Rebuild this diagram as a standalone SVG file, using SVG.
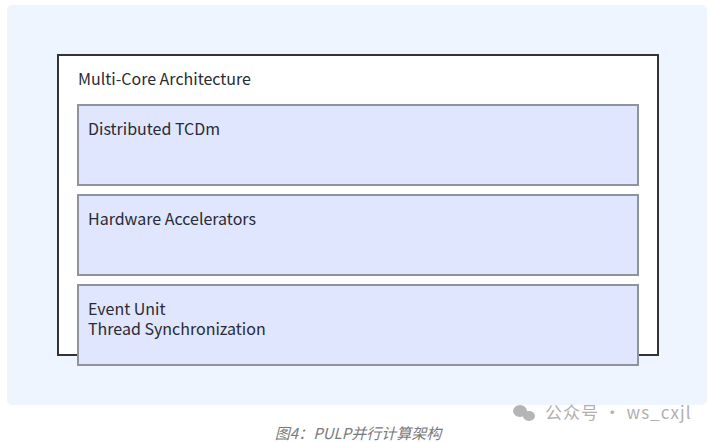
<svg xmlns="http://www.w3.org/2000/svg" width="710" height="442" viewBox="0 0 710 442">
<style>
.lbl{font-family:"Noto Sans CJK SC","Noto Sans",sans-serif;font-size:16px;fill:#2a2a33}
.inner{fill:#dfe6fd;stroke:#8e939c;stroke-width:2}
.cap{font-family:"Noto Sans CJK SC","Noto Sans",sans-serif;font-size:15px;fill:#7a7a7a;font-style:italic}
.wm{font-family:"Noto Sans CJK SC","Noto Sans",sans-serif;font-size:17px;fill:#b0b0b0;letter-spacing:1px}
</style>
<rect x="7" y="5" width="700" height="400" rx="5" fill="#eff5fe"/>
<g id="multicore">
<rect x="58" y="55" width="600" height="300" fill="#ffffff" stroke="#333333" stroke-width="2"/>
<text class="lbl" x="78" y="85">Multi-Core Architecture</text>
</g>
<g id="tcdm">
<rect class="inner" x="78" y="105" width="560" height="80"/>
<text class="lbl" x="88" y="135">Distributed TCDm</text>
</g>
<g id="hwacc">
<rect class="inner" x="78" y="195" width="560" height="80"/>
<text class="lbl" x="88" y="225">Hardware Accelerators</text>
</g>
<g id="eventunit">
<rect class="inner" x="78" y="285" width="560" height="80"/>
<text class="lbl" x="88" y="315">Event Unit</text>
<text class="lbl" x="88" y="335">Thread Synchronization</text>
</g>
<g id="connectors"/>
<text class="cap" x="358" y="439" text-anchor="middle">图4：PULP并行计算架构</text>
<g id="watermark" fill="#b5b5b5">
<ellipse cx="520" cy="411" rx="7" ry="6"/>
<ellipse cx="529" cy="416" rx="6" ry="5"/>
</g>
<text class="wm" x="545" y="419">公众号 · ws_cxjl</text>
</svg>
